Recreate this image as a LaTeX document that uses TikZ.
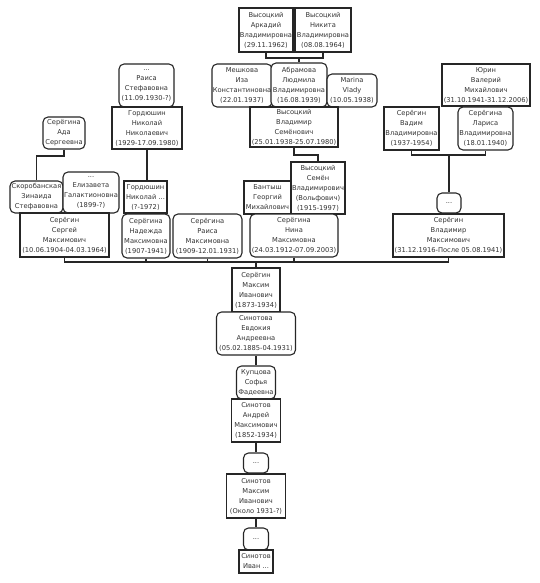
\documentclass[tikz,border=0pt]{standalone}
\usepackage{fontspec}
\setmainfont{DejaVu Sans}
\begin{document}
\begin{tikzpicture}[x=1pt,y=-1pt,
  every node/.style={font=\fontsize{6.7}{10}\selectfont,text=black!80},
  person/.style={draw=black!85,line width=1.1pt,fill=white,align=center,inner sep=0pt},
  wife/.style={person,rounded corners=5pt},
  link/.style={draw=black!85,line width=1.1pt}]
  \useasboundingbox (0,0) rectangle (540,583);
  \node[person,minimum width=54,minimum height=44] (ark) at (266,30) {Высоцкий\\Аркадий\\Владимировна\\(29.11.1962)};
  \node[person,minimum width=56,minimum height=44] (nik) at (323,30) {Высоцкий\\Никита\\Владимировна\\(08.08.1964)};
  \node[wife,minimum width=60,minimum height=43] (mesh) at (242,85.5) {Мешкова\\Иза\\Константиновна\\(22.01.1937)};
  \node[wife,minimum width=56,minimum height=44] (abr) at (299,85) {Абрамова\\Людмила\\Владимировна\\(16.08.1939)};
  \node[wife,minimum width=50,minimum height=33] (vlady) at (352,90.5) {Marina\\Vlady\\(10.05.1938)};
  \node[person,minimum width=88,minimum height=40] (vvs) at (294,127) {Высоцкий\\Владимир\\Семёнович\\(25.01.1938-25.07.1980)};
  \node[wife,minimum width=55,minimum height=43] (raisas) at (146.5,85.5) {...\\Раиса\\Стефавовна\\(11.09.1930-?)};
  \node[person,minimum width=70,minimum height=42] (gnn) at (147,128) {Гордюшин\\Николай\\Николаевич\\(1929-17.09.1980)};
  \node[wife,minimum width=42,minimum height=32] (ada) at (64,133) {Серёгина\\Ада\\Сергеевна};
  \node[wife,minimum width=53,minimum height=32] (skor) at (36.5,197) {Скоробанская\\Зинаида\\Стефавовна};
  \node[wife,minimum width=56,minimum height=41] (eliz) at (91,192.5) {...\\Елизавета\\Галактионовна\\(1899-?)};
  \node[person,minimum width=89,minimum height=44] (serg) at (64.5,235) {Серёгин\\Сергей\\Максимович\\(10.06.1904-04.03.1964)};
  \node[person,minimum width=43,minimum height=32] (gn) at (145.5,197) {Гордюшин\\Николай ...\\(?-1972)};
  \node[wife,minimum width=48,minimum height=44] (nad) at (146,236) {Серёгина\\Надежда\\Максимовна\\(1907-1941)};
  \node[wife,minimum width=69,minimum height=44] (raisam) at (207.5,236) {Серёгина\\Раиса\\Максимовна\\(1909-12.01.1931)};
  \node[person,minimum width=47,minimum height=33] (bant) at (267.5,197.5) {Бантыш\\Георгий\\Михайлович};
  \node[person,minimum width=54,minimum height=52] (sem) at (318,188) {Высоцкий\\Семён\\Владимирович\\(Вольфович)\\(1915-1997)};
  \node[wife,minimum width=88,minimum height=43] (nina) at (294,235.5) {Серёгина\\Нина\\Максимовна\\(24.03.1912-07.09.2003)};
  \node[wife,minimum width=24,minimum height=20] (dotsa) at (449,203) {...};
  \node[person,minimum width=111,minimum height=43] (vlm) at (448.5,235.5) {Серёгин\\Владимир\\Максимович\\(31.12.1916-После 05.08.1941)};
  \node[person,minimum width=88,minimum height=42] (yurin) at (486,85) {Юрин\\Валерий\\Михайлович\\(31.10.1941-31.12.2006)};
  \node[person,minimum width=55,minimum height=43] (vad) at (411.5,128.5) {Серёгин\\Вадим\\Владимировна\\(1937-1954)};
  \node[wife,minimum width=55,minimum height=43] (lar) at (485.5,128.5) {Серёгина\\Лариса\\Владимировна\\(18.01.1940)};
  \node[person,minimum width=48,minimum height=44] (maxs) at (256,290) {Серёгин\\Максим\\Иванович\\(1873-1934)};
  \node[wife,minimum width=79,minimum height=43] (evd) at (256,333.5) {Синотова\\Евдокия\\Андреевна\\(05.02.1885-04.1931)};
  \node[wife,minimum width=39,minimum height=33] (kup) at (256,382.5) {Купцова\\Софья\\Фадеевна};
  \node[person,minimum width=49,minimum height=43] (andr) at (256,420.5) {Синотов\\Андрей\\Максимович\\(1852-1934)};
  \node[wife,minimum width=25,minimum height=20] (dotsb) at (256,463) {...};
  \node[person,minimum width=59,minimum height=44] (msin) at (256,496) {Синотов\\Максим\\Иванович\\(Около 1931-?)};
  \node[wife,minimum width=25,minimum height=22] (dotsc) at (256,539) {...};
  \node[person,minimum width=34,minimum height=23] (ivan) at (256,561.5) {Синотов\\Иван ...};
  \coordinate (jark) at (299,58);
  \coordinate (jsem) at (294,155);
  \coordinate (jada) at (64,156);
  \coordinate (jvad) at (449,155);
  \coordinate (jmax) at (256,262);
  \draw[link] (ark.south) |- (jark) -| (nik.south);
  \draw[link] (jark) -- (abr.north);
  \draw[link] (vvs.south) -- (jsem) -| (sem.north);
  \draw[link] (ada.south) -- (jada) -| (skor.north);
  \draw[link] (gnn.south) -- (gnn.south |- gn.north);
  \draw[link] (vad.south) |- (jvad) -| (lar.south);
  \draw[link] (jvad) -- (dotsa.north);
  \draw[link] (serg.south) |- (jmax) -| (vlm.south);
  \draw[link] (nad.south) -- (nad.south |- jmax);
  \draw[link] (raisam.south) -- (raisam.south |- jmax);
  \draw[link] (nina.south) -- (nina.south |- jmax);
  \draw[link] (jmax) -- (maxs.north);
  \draw[link] (evd.south) -- (kup.north);
  \draw[link] (andr.south) -- (dotsb.north);
  \draw[link] (msin.south) -- (dotsc.north);
\end{tikzpicture}
\end{document}
